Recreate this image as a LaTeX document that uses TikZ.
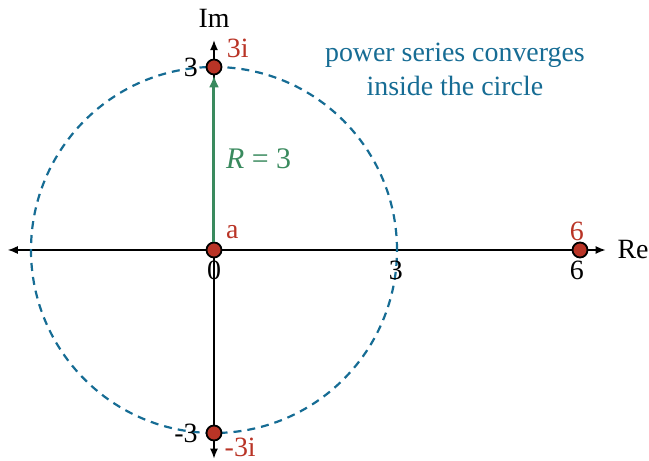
\documentclass[tikz,border=0pt]{standalone}
\usepackage{fontspec}
\setmainfont{Liberation Serif}
\usetikzlibrary{arrows.meta}
\definecolor{ptred}{RGB}{185,52,38}
\definecolor{rgreen}{RGB}{58,138,94}
\definecolor{cblue}{RGB}{22,108,148}
\tikzset{
  axis/.style={line width=0.7bp,-{Latex[length=5bp,width=4bp]}},
  ptdot/.style={circle,draw=black,fill=ptred,line width=0.9bp,minimum size=7.5bp,inner sep=0pt},
  lbl/.style={font=\fontsize{14}{16}\selectfont,inner sep=0pt},
  redlbl/.style={lbl,text=ptred},
  biglbl/.style={font=\fontsize{14}{16}\selectfont,inner sep=0pt},
}
\begin{document}
\begin{tikzpicture}[x=30.5bp,y=30.5bp]
\useasboundingbox (-3.508,-3.459) rectangle (7.131,4.098);
% axes
\coordinate (O) at (0,0);
\coordinate (xl) at (-3.38,0);
\coordinate (xr) at (6.42,0);
\coordinate (yb) at (0,-3.42);
\coordinate (yt) at (0,3.44);
\draw[axis] (O) -- (xr);
\draw[axis] (O) -- (xl);
\draw[axis] (O) -- (yt);
\draw[axis] (O) -- (yb);
% circle
\draw[cblue,line width=1.1bp,dash pattern=on 4bp off 3bp] (O) circle[radius=3];
% points
\node[ptdot] (a) at (0,0) {};
\node[ptdot] (p3i) at (0,3) {};
\node[ptdot] (m3i) at (0,-3) {};
\node[ptdot] (p6) at (6,0) {};
% radius arrow
\draw[rgreen,line width=1.5bp,-{Latex[length=6bp,width=5bp]}] (a) -- (p3i);
% axis labels
\node[biglbl] (re) at (6.87,0) {Re};
\node[biglbl] (im) at (0,3.79) {Im};
% tick labels
\node[lbl] (t0) at (0,-0.34) {0};
\node[lbl] (t3) at (2.98,-0.34) {3};
\node[lbl] (t6) at (5.95,-0.34) {6};
\node[lbl] (ty3) at (-0.38,3.0) {3};
\node[lbl] (tym3) at (-0.46,-3.0) {-3};
% point labels
\node[redlbl] (la) at (0.3,0.3) {a};
\node[redlbl] (l6) at (5.95,0.31) {6};
\node[redlbl] (l3i) at (0.39,3.3) {3i};
\node[redlbl] (lm3i) at (0.43,-3.24) {-3i};
% R label
\node[font=\fontsize{15}{17}\selectfont,inner sep=0pt,text=rgreen] (rl) at (0.73,1.5) {\textit{R} = 3};
% note
\node[biglbl,text=cblue,align=center] (note) at (3.95,2.96) {power series converges\\[1pt]inside the circle};
\end{tikzpicture}
\end{document}
